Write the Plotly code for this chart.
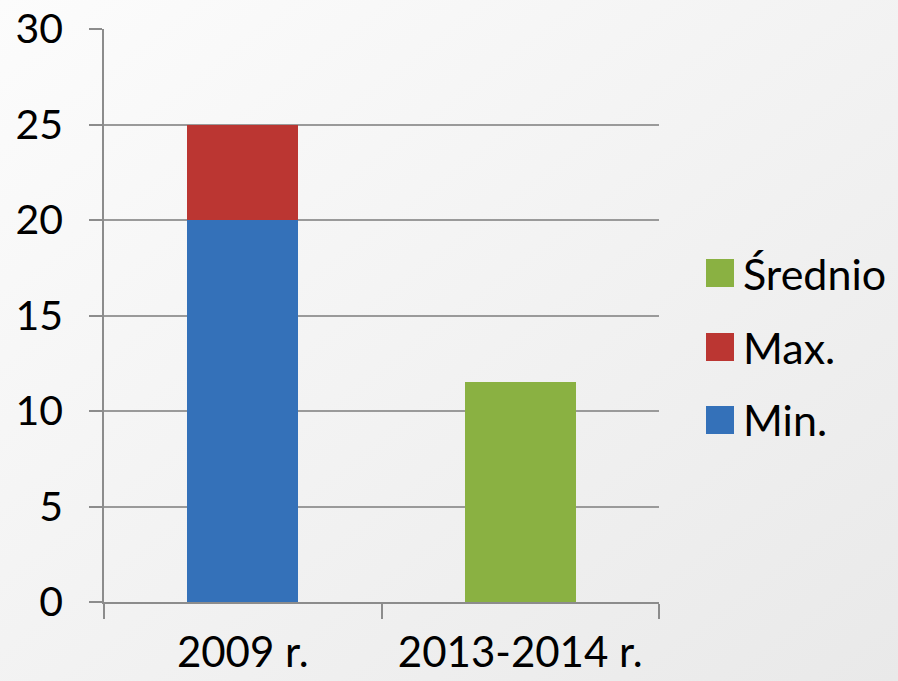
import plotly.graph_objects as go

categories = ["2009 r.", "2013-2014 r."]
min_vals = [20, None]
max_vals = [5, None]
sred_vals = [None, 11.5]
series_names = ["Min.", "Max.", "Średnio"]
series_colors = ["#3471b9", "#bb3632", "#8ab142"]
y_ticks = [0, 5, 10, 15, 20, 25, 30]

FONT = "Lato, 'Open Sans', sans-serif"

fig = go.Figure()
fig.add_trace(go.Bar(x=categories, y=min_vals, name=series_names[0],
                     marker=dict(color=series_colors[0], line=dict(width=0)), showlegend=False))
fig.add_trace(go.Bar(x=categories, y=max_vals, name=series_names[1],
                     marker=dict(color=series_colors[1], line=dict(width=0)), showlegend=False))
fig.add_trace(go.Bar(x=categories, y=sred_vals, name=series_names[2],
                     marker=dict(color=series_colors[2], line=dict(width=0)), showlegend=False))

bg_svg = ("data:image/svg+xml;utf8,<svg xmlns='http://www.w3.org/2000/svg' width='100' height='100' preserveAspectRatio='none'>"
          "<defs><linearGradient id='g' x1='0' y1='0' x2='1' y2='1'>"
          "<stop offset='0' stop-color='%23fcfcfc'/><stop offset='1' stop-color='%23e9e9e9'/>"
          "</linearGradient></defs><rect width='100' height='100' fill='url(%23g)'/></svg>")

shapes = []
annotations = []
legend_order = [2, 1, 0]
legend_y_px = [273, 347, 420]
for idx, ypx in zip(legend_order, legend_y_px):
    yc = (602 - ypx) / 573
    h = 14 / 573
    shapes.append(dict(type="rect", xref="paper", yref="paper",
                       x0=(706 - 104) / 555, x1=(734 - 104) / 555,
                       y0=yc - h, y1=yc + h,
                       fillcolor=series_colors[idx], line=dict(width=0)))
    annotations.append(dict(text=series_names[idx], xref="paper", yref="paper",
                            x=(741 - 104) / 555, y=yc, xanchor="left", yanchor="middle",
                            showarrow=False, font=dict(family=FONT, size=43, color="#000000")))

fig.update_layout(
    width=898, height=681,
    margin=dict(l=104, r=239, t=29, b=79),
    barmode="stack",
    bargap=0.6,
    paper_bgcolor="#f4f4f4",
    plot_bgcolor="rgba(0,0,0,0)",
    showlegend=False,
    font=dict(family=FONT, size=40, color="#000000"),
    images=[dict(source=bg_svg, xref="paper", yref="paper", x=-104 / 555, y=1 + 29 / 573,
                 sizex=898 / 555, sizey=681 / 573, sizing="stretch", layer="below",
                 xanchor="left", yanchor="top")],
    shapes=shapes,
    annotations=annotations,
    xaxis=dict(
        automargin=False,
        showline=True, linecolor="#8c8c8c", linewidth=1.5,
        ticks="outside", tickson="boundaries", ticklen=15, tickcolor="#8c8c8c", tickwidth=1.5,
        showgrid=False, ticklabelstandoff=13,
        tickfont=dict(family=FONT, size=42, color="#000000"),
    ),
    yaxis=dict(
        automargin=False,
        range=[0, 30], tickvals=y_ticks, ticktext=[str(v) for v in y_ticks],
        showline=True, linecolor="#8c8c8c", linewidth=1.5,
        ticks="outside", ticklen=13, tickcolor="#8c8c8c", tickwidth=1.5,
        showgrid=True, gridcolor="#9a9a9a", gridwidth=1.5,
        zeroline=False, ticklabelstandoff=18,
        tickfont=dict(family=FONT, size=41, color="#000000"),
    ),
)

fig.write_html("out.html", config={"displayModeBar": False},
               post_script="document.body.style.margin='0';document.body.style.overflow='hidden';")
